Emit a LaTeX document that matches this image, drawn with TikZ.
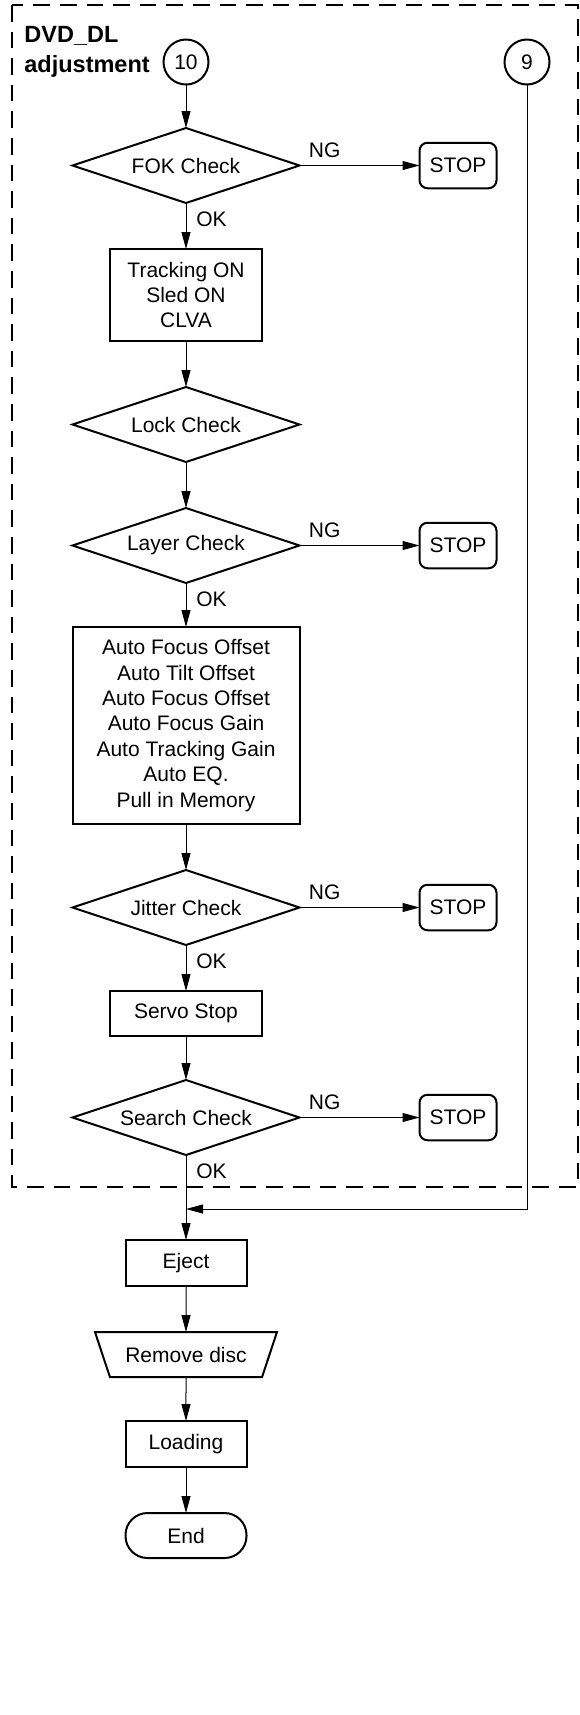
\documentclass[tikz,border=0pt]{standalone}
\usepackage{fontspec}
\setmainfont{Liberation Sans}
\usetikzlibrary{arrows.meta,positioning,shapes.geometric}
\tikzset{shp/.style={draw,line width=1pt,align=center,inner sep=0pt,outer sep=0pt,
  font=\fontsize{10.5}{12.7}\selectfont},
  proc/.style={shp,rectangle,minimum width=76pt},
  check/.style={shp,diamond,aspect=3,minimum width=113.5pt,minimum height=37.5pt},
  stopbox/.style={shp,rounded corners=4pt,minimum width=38.5pt,minimum height=22.75pt},
  conn/.style={shp,circle,minimum size=22.5pt},
  lbl/.style={inner sep=0pt,font=\fontsize{10.5}{12.7}\selectfont},
  ttl/.style={inner sep=0pt,align=left,font=\fontsize{11.75}{15}\selectfont\bfseries},
  frame/.style={line width=0.9pt,dash pattern=on 8.3pt off 5pt},
  flow/.style={-{Triangle[length=8.5pt,width=4.5pt]},line width=0.5pt}}
\begin{document}
\begin{tikzpicture}[x=0.5pt,y=-0.5pt,node distance=23pt]
\useasboundingbox (0,0) rectangle (579,1715);
\draw[frame] (12,5) rectangle (578,1187);
\node[ttl,anchor=north west] (head) at (24,26) {DVD\_DL\\adjustment};
\node[conn] (c10) at (186,62) {10};
\node[conn,right=148pt of c10] (c9) {9};
\node[check,below=21.75pt of c10] (fok) {FOK Check};
\node[stopbox,right=60pt of fok] (stop1) {STOP};
\node[proc,below=of fok,minimum height=46pt] (track) {Tracking ON\\Sled ON\\CLVA};
\node[check,below=of track] (lock) {Lock Check};
\node[check,below=of lock] (layer) {Layer Check};
\node[stopbox,right=60pt of layer] (stop2) {STOP};
\node[proc,below=22pt of layer,minimum width=113.5pt,minimum height=98.5pt] (auto) {Auto Focus Offset\\Auto Tilt Offset\\Auto Focus Offset\\Auto Focus Gain\\Auto Tracking Gain\\Auto EQ.\\Pull in Memory};
\node[check,below=of auto] (jit) {Jitter Check};
\node[stopbox,right=60pt of jit] (stop3) {STOP};
\node[proc,below=of jit,minimum height=22.5pt] (servo) {Servo Stop};
\node[check,below=22pt of servo] (srch) {Search Check};
\node[stopbox,right=60pt of srch] (stop4) {STOP};
\node[proc,below=42.5pt of srch,minimum width=60.5pt,minimum height=23pt] (eject) {Eject};
\node[shp,trapezium,trapezium left angle=71.6,trapezium right angle=71.6,shape border rotate=180,
  trapezium stretches body,inner ysep=7.35pt,minimum width=91pt,minimum height=22.5pt,below=of eject] (rm) {Remove disc};
\node[proc,below=22pt of rm,minimum width=60.5pt,minimum height=23pt] (load) {Loading};
\node[shp,rounded corners=11pt,minimum width=60.5pt,minimum height=22.5pt,below=of load] (fin) {End};
% labels
\node[lbl,anchor=south west] (ng1) at ([xshift=4.5pt,yshift=3.75pt]fok.east) {NG};
\node[lbl,anchor=north west] (ok1) at ([xshift=5pt,yshift=-4.25pt]fok.south) {OK};
\node[lbl,anchor=south west] (ng2) at ([xshift=4.5pt,yshift=3.75pt]layer.east) {NG};
\node[lbl,anchor=north west] (ok2) at ([xshift=5pt,yshift=-4.25pt]layer.south) {OK};
\node[lbl,anchor=south west] (ng3) at ([xshift=4.5pt,yshift=3.75pt]jit.east) {NG};
\node[lbl,anchor=north west] (ok3) at ([xshift=5pt,yshift=-4.25pt]jit.south) {OK};
\node[lbl,anchor=south west] (ng4) at ([xshift=4.5pt,yshift=3.75pt]srch.east) {NG};
\node[lbl,anchor=north west] (ok4) at ([xshift=5pt,yshift=-4.25pt]srch.south) {OK};
\coordinate (join) at ([yshift=-27pt]srch.south);
% connectors
\draw[flow] (c10) -- (fok);
\draw[flow] (fok) -- (stop1);
\draw[flow] (fok) -- (track);
\draw[flow] (track) -- (lock);
\draw[flow] (lock) -- (layer);
\draw[flow] (layer) -- (stop2);
\draw[flow] (layer) -- (auto);
\draw[flow] (auto) -- (jit);
\draw[flow] (jit) -- (stop3);
\draw[flow] (jit) -- (servo);
\draw[flow] (servo) -- (srch);
\draw[flow] (srch) -- (stop4);
\draw[flow] (srch) -- (eject);
\draw[flow] (c9) |- (join);
\draw[flow] (eject) -- (rm);
\draw[flow] (rm) -- (load);
\draw[flow] (load) -- (fin);
\end{tikzpicture}
\end{document}
